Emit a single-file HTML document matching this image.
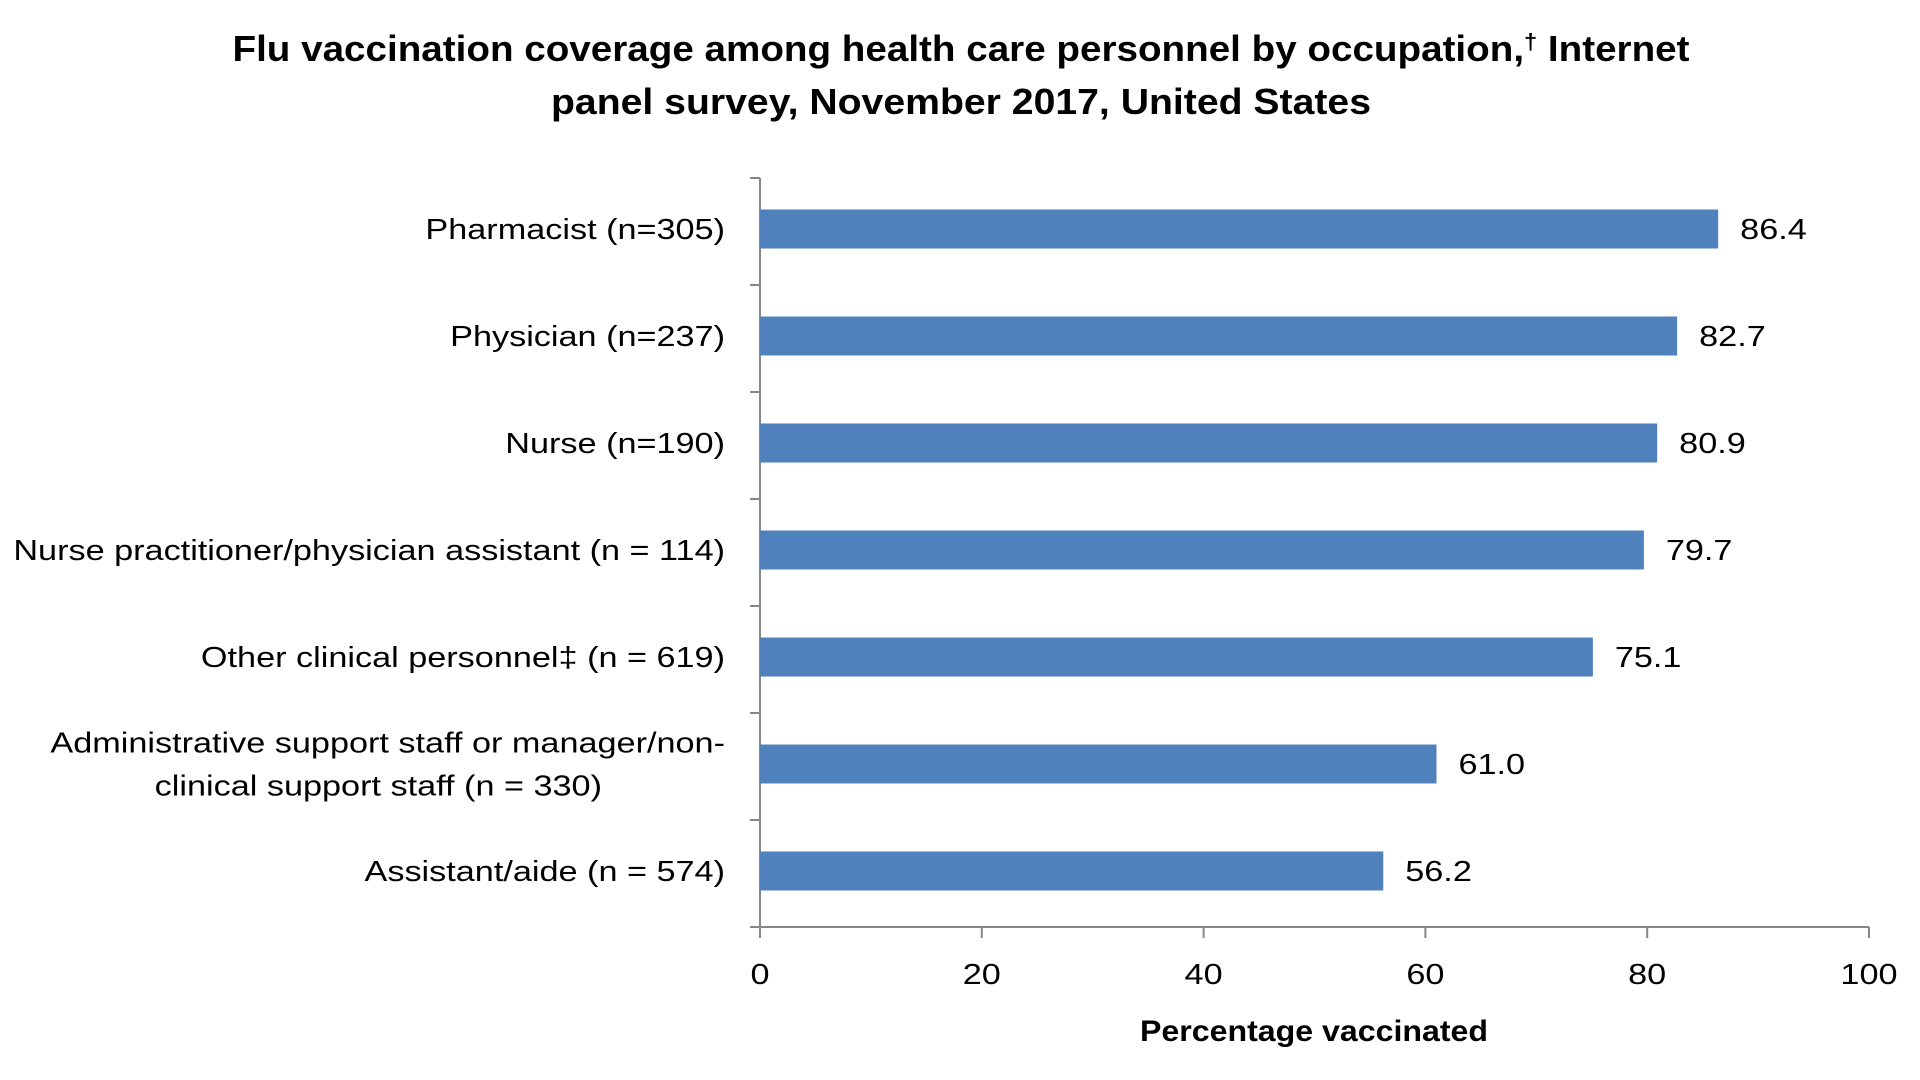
<!DOCTYPE html>
<html><head><meta charset="utf-8"><style>
html,body{margin:0;padding:0;background:#fff;}
svg{display:block;font-family:"Liberation Sans",sans-serif;}
</style></head><body>
<svg id="chart" width="1920" height="1080">
<text x="961" y="61" text-anchor="middle" font-size="36" font-weight="bold" textLength="1457" lengthAdjust="spacingAndGlyphs">Flu vaccination coverage among health care personnel by occupation,<tspan font-size="22" dy="-12">†</tspan><tspan dy="12"> Internet</tspan></text>
<text x="961" y="114" text-anchor="middle" font-size="36" font-weight="bold" textLength="820" lengthAdjust="spacingAndGlyphs">panel survey, November 2017, United States</text>
<g id="plot"></g>
<text x="1314" y="1041" text-anchor="middle" font-size="30" font-weight="bold" textLength="348" lengthAdjust="spacingAndGlyphs">Percentage vaccinated</text>
</svg>
<script>
const categories = [
  ["Pharmacist (n=305)"],
  ["Physician (n=237)"],
  ["Nurse (n=190)"],
  ["Nurse practitioner/physician assistant (n = 114)"],
  ["Other clinical personnel‡ (n = 619)"],
  ["Administrative support staff or manager/non-", "clinical support staff (n = 330)"],
  ["Assistant/aide (n = 574)"]
];
const values = [86.4, 82.7, 80.9, 79.7, 75.1, 61.0, 56.2];
const valueLabels = ["86.4", "82.7", "80.9", "79.7", "75.1", "61.0", "56.2"];
const xTicks = [0, 20, 40, 60, 80, 100];

const NS = "http://www.w3.org/2000/svg";
const g = document.getElementById("plot");
const X0 = 760, X1 = 1869, YT = 178, YB = 927;
const xMax = 100;
const band = (YB - YT) / categories.length;
const xs = v => X0 + (v / xMax) * (X1 - X0);
const yc = i => YT + band * (i + 0.5) - 2.5;
const STRETCH = 1.18;
function mk(tag, attrs) { const e = document.createElementNS(NS, tag); for (const k in attrs) e.setAttribute(k, attrs[k]); g.appendChild(e); return e; }
function stretch(t) { const L = t.getComputedTextLength(); t.setAttribute("textLength", L * STRETCH); t.setAttribute("lengthAdjust", "spacingAndGlyphs"); }

let ax = mk("line", {x1: X0, y1: YT, x2: X0, y2: YB, stroke: "#868686", "stroke-width": 2});


ax = mk("line", {x1: X0 - 10, y1: YB, x2: X1, y2: YB, stroke: "#868686", "stroke-width": 2});


for (let i = 0; i <= categories.length; i++) {
  const y = YT + band * i;
  const t = mk("line", {x1: X0 - 10, y1: y, x2: X0, y2: y, stroke: "#868686", "stroke-width": 2});
  
  
}
xTicks.forEach(v => {
  const x = xs(v);
  const t = mk("line", {x1: x, y1: YB, x2: x, y2: YB + 11, stroke: "#868686", "stroke-width": 2});
  
  
  const l = mk("text", {x: x, y: YB + 57, "text-anchor": "middle", "font-size": 29});
  l.textContent = v;
  
  
  stretch(l);
});
const barH = 39;
values.forEach((v, i) => {
  const y = yc(i);
  const r = mk("rect", {x: X0, y: y - barH / 2, width: xs(v) - X0, height: barH, fill: "#4F81BD"});
  
  
  const vl = mk("text", {x: xs(v) + 22, y: y + 10, "font-size": 29});
  vl.textContent = valueLabels[i];
  
  
  stretch(vl);
  const lines = categories[i];
  lines.forEach((s, j) => {
    const ly = y + 10 + (j - (lines.length - 1) / 2) * 43;
    const anchorX = lines.length > 1 && j === 1 ? 602 : 725;
    const t = mk("text", {x: anchorX, y: ly, "text-anchor": "end", "font-size": 29});
    t.textContent = s;
    
    
    stretch(t);
  });
});
</script>
</body></html>
